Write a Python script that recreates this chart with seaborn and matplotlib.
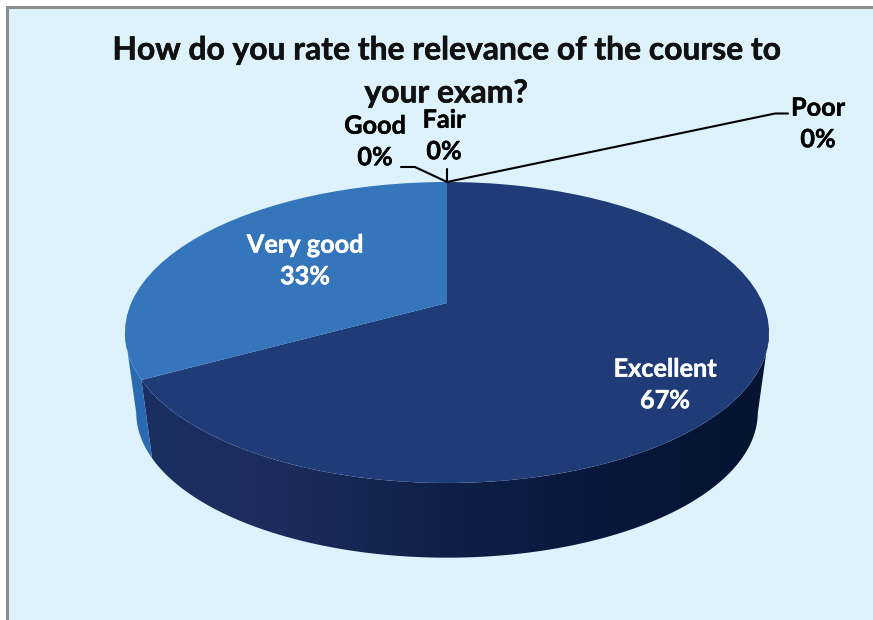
#!/usr/bin/python3
# -*- coding: utf-8 -*-

# 3D looking pie chart: ax.pie wedges pushed through a small perspective transform

import numpy as np
import seaborn as sns
import matplotlib
matplotlib.use("Agg")
import matplotlib.pyplot as plt
import matplotlib.patheffects as pe
from matplotlib.patches import Polygon, Rectangle
from matplotlib.transforms import Transform

# data
categories = ["Excellent", "Very good", "Good", "Fair", "Poor"]
percents = [67, 33, 0, 0, 0]
title_lines = ["How do you rate the relevance of the course to", "your exam?"]

# label centres, pixels
label_pos = [(665, 385), (305, 261), (375, 142), (444, 136), (818, 124)]
label_colors = ["white", "white", "black", "black", "black"]

top_colors = ["#203c78", "#3475bb", "#3475bb", "#3475bb", "#3475bb"]
side_ramps = [["#1c2f62", "#1b2c5c", "#0e2049", "#08173a", "#061431"],
              ["#2a6ab2", "#2a6ab2"]]

bg_color = "#def2fc"
border_color = "#8c8c8c"

# pie geometry, pixels
cx = 447
apex_y = 303
tilt = 0.196
rx = 315.8
ry = 144.7
depth = 81
bottom_scale = 0.965


def project(x, y, dy=0.0, scale=1.0):
    d = 1 + tilt * y
    return cx + scale * rx * x / d, apex_y + dy - scale * ry * y / d


class TiltTransform(Transform):
    input_dims = 2
    output_dims = 2
    is_separable = False
    has_inverse = False

    def transform_non_affine(self, values):
        values = np.asarray(values)
        px, py = project(values[:, 0], values[:, 1])
        return np.column_stack([px, py])


sns.set_theme(style="white")
plt.rcParams["font.family"] = ["Lato", "DejaVu Sans"]

fig = plt.figure(figsize=(8.73, 6.2), dpi=100, facecolor="white")
ax = fig.add_axes([0, 0, 1, 1])

wedges, _ = ax.pie(percents, startangle=90, counterclock=False, colors=top_colors)
ax.set_aspect("auto")
ax.axis("off")

# background panel
ax.add_patch(Rectangle((7, 7), 880, 630, facecolor=bg_color, edgecolor=border_color,
                       linewidth=2.2, zorder=0))

# side wall, a left to right gradient clipped to the front part of each slice
# (rim is widest at sin = -tilt, nothing above that shows)
for wedge, ramp in zip(wedges[:2], side_ramps):
    angles = np.radians(np.linspace(wedge.theta1, wedge.theta2, 400))
    angles = angles[np.sin(angles) <= -tilt]
    xt, yt = project(np.cos(angles), np.sin(angles))
    xb, yb = project(np.cos(angles), np.sin(angles), dy=depth, scale=bottom_scale)
    outline = Polygon(np.column_stack([np.r_[xt, xb[::-1]], np.r_[yt, yb[::-1]]]),
                      transform=ax.transData, facecolor="none", edgecolor="none")
    ax.add_patch(outline)
    colors = np.array(sns.blend_palette(ramp, 256))[np.newaxis, :, :]
    img = ax.imshow(colors, extent=(cx - rx * 1.03, cx + rx * 1.03, 620, 0), aspect="auto",
                    interpolation="bilinear", zorder=1)
    img.set_clip_path(outline)

# top face
tilted = TiltTransform() + ax.transData
for wedge in wedges:
    wedge.set_transform(tilted)
    wedge.set_clip_on(False)
    wedge.set_linewidth(0)
    wedge.set_zorder(2)

ax.set_xlim(0, 873)
ax.set_ylim(620, 0)

# leader lines of the 0% slices
line_kw = dict(color="black", lw=1.5, zorder=3, solid_joinstyle="miter")
ax.plot([447, 415, 401], [182, 167, 167], **line_kw)
ax.plot([447, 447], [182, 169], **line_kw)
ax.plot([447, 775, 788], [182, 113.5, 113.5], **line_kw)

# text
for y, line in zip([50, 93], title_lines):
    ax.text(446, y, line, ha="center", va="center", fontsize=22.9, fontweight="bold",
            color="#111111", path_effects=[pe.withStroke(linewidth=0.4, foreground="#111111")])

for name, pct, (x, y), color in zip(categories, percents, label_pos, label_colors):
    ax.text(x, y, "{}\n{}%".format(name, pct), ha="center", va="center", fontsize=18.2,
            fontweight="bold", color=color, linespacing=1.45, zorder=4,
            path_effects=[pe.withStroke(linewidth=0.3, foreground=color)])

plt.savefig("out.png", dpi=100)
